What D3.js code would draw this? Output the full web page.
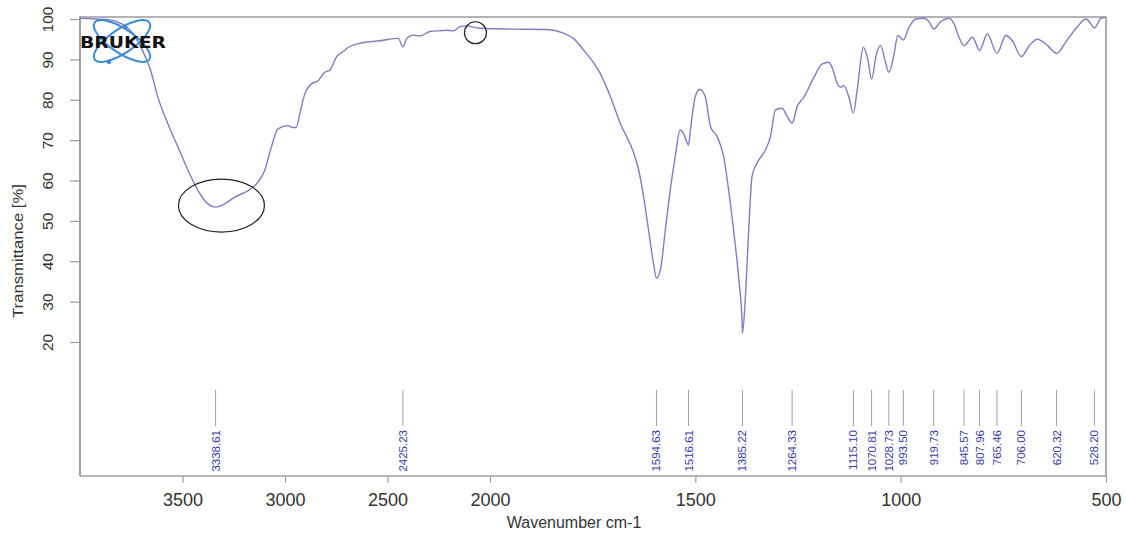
<!DOCTYPE html>
<html>
<head>
<meta charset="utf-8">
<script src="https://cdn.jsdelivr.net/npm/d3@7"></script>
<style>
  html, body { margin: 0; padding: 0; background: #fff; }
  svg { display: block; font-family: "Liberation Sans", Arial, sans-serif; }
</style>
</head>
<body>
<svg id="chart" width="1126" height="536"></svg>
<script>
// IR spectrum: wavenumber (cm-1) and transmittance (%)
const wavenumbers = [
  4000, 3927, 3854, 3805, 3756, 3675, 3660, 3620, 3571, 3522, 3473, 3424, 3376,
  3338.61, 3294, 3245, 3180, 3132, 3099, 3067, 3034, 2985, 2961, 2945, 2928,
  2904, 2872, 2839, 2806, 2780, 2748, 2709, 2699, 2634, 2537, 2447, 2425.23,
  2406, 2374, 2341, 2293, 2244, 2211, 2179, 2146, 2114, 2049, 1944, 1862,
  1821, 1797, 1772, 1756, 1732, 1707, 1683, 1650, 1638, 1626, 1614, 1602,
  1594.63, 1585, 1573, 1561, 1549, 1537, 1529, 1516.61, 1512, 1500, 1489,
  1476, 1463, 1447, 1431, 1419, 1407, 1394, 1386, 1385.22, 1378, 1370, 1362,
  1350, 1329, 1317, 1305, 1289, 1276, 1264.33, 1252, 1236, 1211, 1191, 1175,
  1167, 1154, 1146, 1138, 1126, 1115.10, 1106, 1091, 1081, 1070.81, 1059,
  1049, 1038, 1028.73, 1016, 1007, 993.50, 980, 963, 943, 930, 919.73, 902,
  882, 870, 858, 845.57, 825, 807.96, 789, 765.46, 744, 728, 706.00, 687,
  667, 642, 620.32, 596, 571, 549, 537, 528.20, 512, 500
];
const transmittance = [
  100.2, 100.0, 99.8, 99.0, 97.3, 89.9, 88.0, 80.6, 74.0, 68.3, 62.5, 57.5, 54.2,
  53.4, 54.2, 55.9, 57.5, 59.6, 62.5, 68.2, 72.8, 73.6, 73.1, 73.2, 76.5,
  81.4, 83.9, 84.7, 86.8, 87.4, 90.7, 92.2, 92.7, 94.0, 94.6, 95.2, 93.1,
  95.2, 96.0, 95.8, 96.9, 97.1, 97.2, 97.1, 98.1, 98.3, 97.7, 97.5, 97.4,
  96.5, 95.2, 92.3, 90.3, 86.6, 80.8, 74.2, 66.8, 62.6, 56.0, 47.8, 39.5,
  35.8, 37.9, 47.8, 57.7, 65.9, 72.5, 71.7, 68.8, 72.5, 80.8, 82.6,
  80.8, 73.3, 70.9, 65.9, 57.7, 47.8, 35.4, 24.7, 22.2, 31.3, 47.8, 61.0,
  64.3, 67.6, 70.9, 77.5, 77.9, 75.8, 74.2, 78.3, 80.6, 85.6, 88.9, 89.3,
  88.0, 83.9, 83.1, 83.5, 80.6, 76.7, 82.3, 93.0, 90.5, 85.1, 91.3,
  93.4, 89.7, 86.8, 91.3, 95.9, 94.8, 97.9, 100.0, 100.2, 99.2, 97.5, 99.4,
  100.2, 98.8, 95.5, 93.4, 95.5, 92.2, 96.3, 91.5, 95.9, 94.6, 90.7, 93.4,
  95.0, 93.4, 91.5, 94.6, 97.9, 100.0, 98.8, 97.8, 100.2, 100.4
];

// Picked peaks
const peakPositions = [3338.61, 2425.23, 1594.63, 1516.61, 1385.22, 1264.33, 1115.10,
  1070.81, 1028.73, 993.50, 919.73, 845.57, 807.96, 765.46, 706.00, 620.32, 528.20];
const peakLabels = ["3338.61", "2425.23", "1594.63", "1516.61", "1385.22", "1264.33", "1115.10",
  "1070.81", "1028.73", "993.50", "919.73", "845.57", "807.96", "765.46", "706.00", "620.32", "528.20"];

// Axis ticks
const xTicks = [3500, 3000, 2500, 2000, 1500, 1000, 500];
const yTicks = [20, 30, 40, 50, 60, 70, 80, 90, 100];

// Hand-drawn marks around regions of interest (wavenumber, transmittance)
const markedWn = [3310, 2071];
const markedT = [53.8, 96.6];

const svg = d3.select("#chart");
const plotLeft = 80, plotRight = 1106, plotTop = 17, plotBottom = 476;

// Two-segment wavenumber axis: 4000-2000 compressed, 2000-500 expanded
const x = d3.scaleLinear().domain([4000, 2000, 500]).range([plotLeft, 490, plotRight]);
const y = d3.scaleLinear().domain([-13.2, 100.5]).range([plotBottom, plotTop]);

const axisColor = "#9c9c9c";

// Frame
svg.append("path")
  .attr("d", `M${plotLeft},${plotBottom}V${plotTop}H${plotRight}V${plotBottom}`)
  .attr("fill", "none").attr("stroke", axisColor).attr("stroke-width", 1.6);

// X axis
const gx = svg.append("g").attr("transform", `translate(0,${plotBottom})`)
  .call(d3.axisBottom(x).tickValues(xTicks).tickFormat(d3.format("d"))
    .tickSize(7).tickPadding(10).tickSizeOuter(0));
gx.select(".domain").attr("stroke", axisColor).attr("stroke-width", 1.6)
  .attr("d", `M${plotLeft},0H${plotRight}`);
gx.selectAll(".tick line").attr("stroke", axisColor).attr("stroke-width", 1.2);
gx.selectAll(".tick text").attr("fill", "#333").style("font-size", "18px")
  .style("font-family", "Liberation Sans, Arial, sans-serif");

// Y axis with vertical tick labels
const gy = svg.append("g").attr("transform", `translate(${plotLeft},0)`)
  .call(d3.axisLeft(y).tickValues(yTicks).tickSize(10).tickSizeOuter(0).tickFormat(d3.format("d")));
gy.select(".domain").attr("stroke", axisColor).attr("stroke-width", 1.6)
  .attr("d", `M0,${plotTop}V${plotBottom}`);
gy.selectAll(".tick line").attr("stroke", axisColor).attr("stroke-width", 1.2);
gy.selectAll(".tick text")
  .attr("x", null).attr("dy", null)
  .attr("transform", "translate(-33,0) rotate(-90)")
  .attr("text-anchor", "middle").attr("dominant-baseline", "central")
  .attr("fill", "#333").style("font-size", "15.5px")
  .style("font-family", "Liberation Sans, Arial, sans-serif");

// Axis titles
svg.append("text").attr("x", 574).attr("y", 528).attr("text-anchor", "middle")
  .attr("fill", "#333").style("font-size", "16px").text("Wavenumber cm-1");
svg.append("text").attr("transform", "translate(23,251) rotate(-90)")
  .attr("text-anchor", "middle").attr("fill", "#333").style("font-size", "15px")
  .attr("textLength", 134).attr("lengthAdjust", "spacingAndGlyphs")
  .text("Transmittance [%]");

// Peak markers
const peaks = svg.append("g");
peaks.selectAll("line").data(peakPositions).join("line")
  .attr("x1", d => x(d)).attr("x2", d => x(d))
  .attr("y1", 390).attr("y2", 426)
  .attr("stroke", "#a0a0a0").attr("stroke-width", 1);
peaks.selectAll("text").data(peakPositions).join("text")
  .attr("transform", d => `translate(${x(d)},430) rotate(-90)`)
  .attr("text-anchor", "end").attr("dominant-baseline", "central")
  .attr("fill", "#3a3aa8").style("font-size", "11.5px")
  .text((d, i) => peakLabels[i]);

// Spectrum
const points = wavenumbers.map((w, i) => [w, transmittance[i]]);
svg.append("path").datum(points)
  .attr("fill", "none").attr("stroke", "#7d7dc0").attr("stroke-width", 1.4)
  .attr("d", d3.line().x(d => x(d[0])).y(d => y(d[1])).curve(d3.curveMonotoneX));

// Marked regions
svg.append("ellipse")
  .attr("cx", x(markedWn[0])).attr("cy", y(markedT[0])).attr("rx", 43).attr("ry", 26.5)
  .attr("fill", "none").attr("stroke", "#222").attr("stroke-width", 1.2);
svg.append("circle")
  .attr("cx", x(markedWn[1])).attr("cy", y(markedT[1])).attr("r", 11)
  .attr("fill", "none").attr("stroke", "#222").attr("stroke-width", 1.2);

// Instrument logo
const logo = svg.append("g").attr("transform", "translate(122,41)");
logo.append("ellipse").attr("rx", 33).attr("ry", 12).attr("transform", "rotate(34)")
  .attr("fill", "none").attr("stroke", "#3d8bd8").attr("stroke-width", 2);
logo.append("ellipse").attr("rx", 33).attr("ry", 12).attr("transform", "rotate(-34)")
  .attr("fill", "none").attr("stroke", "#3d8bd8").attr("stroke-width", 2);
logo.append("circle").attr("cx", -13).attr("cy", 21).attr("r", 2.2).attr("fill", "#3d8bd8");
logo.append("circle").attr("cx", 3).attr("cy", -14).attr("r", 2.2).attr("fill", "#3d8bd8");
svg.append("text").attr("x", 80).attr("y", 48).attr("textLength", 86)
  .attr("lengthAdjust", "spacingAndGlyphs")
  .style("font-family", "DejaVu Sans, sans-serif").style("font-weight", "bold")
  .style("font-size", "15px").attr("fill", "#111").text("BRUKER");
</script>
</body>
</html>
